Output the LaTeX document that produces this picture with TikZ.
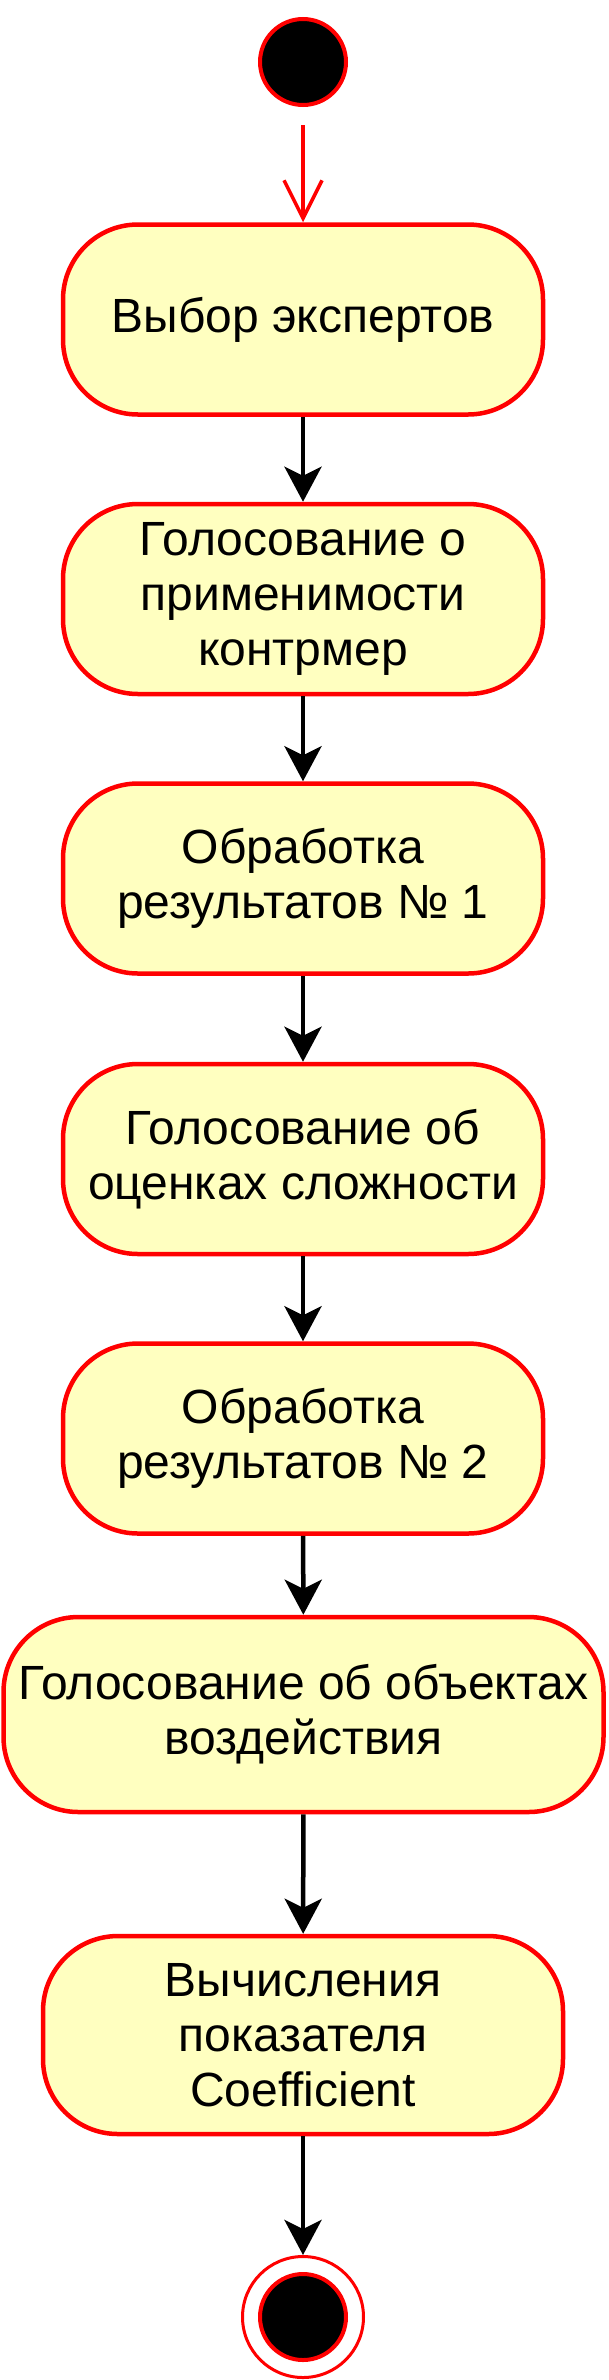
\documentclass[tikz,border=0pt]{standalone}
\usepackage{fontspec}
\setmainfont{Liberation Sans}
\usetikzlibrary{arrows.meta}

\definecolor{actfill}{HTML}{FFFFC0}
\definecolor{actline}{HTML}{FF0000}

\tikzset{
  activity/.style={draw=actline, fill=actfill, line width=4.5pt, rounded corners=75pt,
    minimum height=190pt, inner sep=0pt, align=center,
    font=\fontsize{48pt}{55pt}\selectfont},
  dot/.style={circle, fill=black, draw=actline, line width=4pt, minimum size=86pt, inner sep=0pt},
  flow/.style={line width=4.5pt, -{Stealth[length=35pt,width=37pt,inset=9pt]}},
  initflow/.style={draw=actline, line width=3.5pt, -{Straight Barb[length=38pt,width=38pt]}}
}

\begin{document}
\begin{tikzpicture}[x=1pt,y=-1pt]
  \useasboundingbox (0,0) rectangle (608,2380);

  \node[dot] (start) at (303,62) {};

  \node[activity, minimum width=480pt] (experts) at (303,319.5) {Выбор экспертов};
  \node[activity, minimum width=480pt] (vote1) at (303,599) {Голосование о\\применимости\\контрмер};
  \node[activity, minimum width=480pt] (proc1) at (303,878.5) {Обработка\\результатов № 1};
  \node[activity, minimum width=480pt] (vote2) at (303,1159) {Голосование об\\оценках сложности};
  \node[activity, minimum width=480pt] (proc2) at (303,1438.5) {Обработка\\результатов № 2};
  \node[activity, minimum width=600pt, minimum height=195pt] (vote3) at (303.5,1714.5) {Голосование об объектах\\воздействия};
  \node[activity, minimum width=520pt, minimum height=198pt] (calc) at (303,2035) {Вычисления\\показателя\\Coefficient};

  \node[circle, draw=actline, line width=3pt, minimum size=121pt, inner sep=0pt] (final) at (303,2317) {};
  \node[dot] (finaldot) at (final.center) {};

  \draw[initflow, shorten <=18pt] (start) -- (experts);
  \draw[flow] (experts) -- (vote1);
  \draw[flow] (vote1) -- (proc1);
  \draw[flow] (proc1) -- (vote2);
  \draw[flow] (vote2) -- (proc2);
  \draw[flow] (proc2) -- (vote3);
  \draw[flow] (vote3) -- (calc);
  \draw[flow] (calc) -- (final);
\end{tikzpicture}
\end{document}
